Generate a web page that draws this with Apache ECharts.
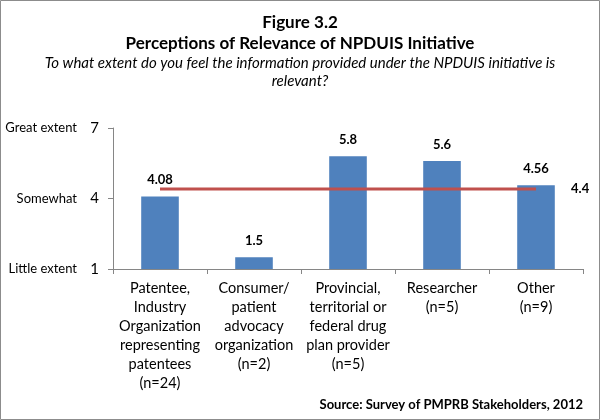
<!DOCTYPE html>
<html><head><meta charset="utf-8">
<script src="https://cdn.jsdelivr.net/npm/echarts@6/dist/echarts.min.js"></script>
<style>html,body{margin:0;padding:0;background:#fff}#c{width:600px;height:420px}</style>
</head><body><div id="c"></div>
<script>
const categories = ['Patentee,\nIndustry\nOrganization\nrepresenting\npatentees\n(n=24)', 'Consumer/\npatient\nadvocacy\norganization\n(n=2)', 'Provincial,\nterritorial or\nfederal drug\nplan provider\n(n=5)', 'Researcher\n(n=5)', 'Other\n(n=9)'];
const values = [4.08, 1.5, 5.8, 5.6, 4.56];
const overall = [4.4, 4.4, 4.4, 4.4, 4.4];
const yTickNames = {1: 'Little extent', 4: 'Somewhat', 7: 'Great extent'};
const F = 'Lato, "Open Sans", sans-serif';
const chart = echarts.init(document.getElementById('c'));
chart.setOption({
  animation: false,
  textStyle: {fontFamily: F, color: '#000'},
  title: [
    {text: 'Figure 3.2', left: 'center', top: 14, padding: 0, textStyle: {fontFamily: F, fontSize: 17, fontWeight: 'bold', color: '#000'}},
    {text: 'Perceptions of Relevance of NPDUIS Initiative', left: 'center', top: 35, padding: 0, textStyle: {fontFamily: F, fontSize: 17, fontWeight: 'bold', color: '#000'}},
    {text: 'To what extent do you feel the information provided under the NPDUIS initiative is\nrelevant?', left: 'center', top: 54, padding: 0, textStyle: {fontFamily: F, fontSize: 15, fontStyle: 'italic', fontWeight: 'normal', color: '#000', lineHeight: 18, align: 'center'}},
    {text: 'Source: Survey of PMPRB Stakeholders, 2012', right: 17, top: 398, padding: 0, textStyle: {fontFamily: F, fontSize: 13, fontWeight: 'bold', color: '#000'}}
  ],
  graphic: [{type: 'rect', shape: {x: 0.5, y: 0.5, width: 599, height: 419}, style: {fill: 'none', stroke: '#8c8c8c', lineWidth: 1}}],
  grid: {left: 113, right: 17, top: 128, bottom: 151},
  xAxis: {
    type: 'category', data: categories,
    axisLine: {lineStyle: {color: '#868686'}},
    axisTick: {show: true, length: 5, lineStyle: {color: '#868686'}},
    axisLabel: {interval: 0, margin: 10, fontSize: 14.5, lineHeight: 19, color: '#000', fontFamily: F}
  },
  yAxis: {
    type: 'value', min: 1, max: 7, interval: 3,
    splitLine: {show: false},
    axisLine: {show: true, lineStyle: {color: '#868686'}},
    axisTick: {show: true, length: 5, lineStyle: {color: '#868686'}},
    axisLabel: {
      margin: 14, color: '#000', fontFamily: F,
      formatter: v => '{n|' + (yTickNames[v] || '') + '}{v|' + v + '}',
      rich: {
        n: {fontSize: 13, width: 70, align: 'right', fontFamily: F, color: '#000'},
        v: {fontSize: 15, width: 22, align: 'right', fontFamily: F, color: '#000'}
      }
    }
  },
  series: [
    {type: 'bar', data: values, barWidth: '40%', itemStyle: {color: '#4F81BD'},
     label: {show: true, position: 'top', distance: 10, fontSize: 13, fontWeight: 'bold', color: '#000', fontFamily: F}},
    {type: 'line', data: overall, symbol: 'none', lineStyle: {color: '#C0504D', width: 3},
     endLabel: {show: true, formatter: '{c}', fontSize: 13, fontWeight: 'bold', color: '#000', fontFamily: F, distance: 35}}
  ]
});
</script></body></html>
